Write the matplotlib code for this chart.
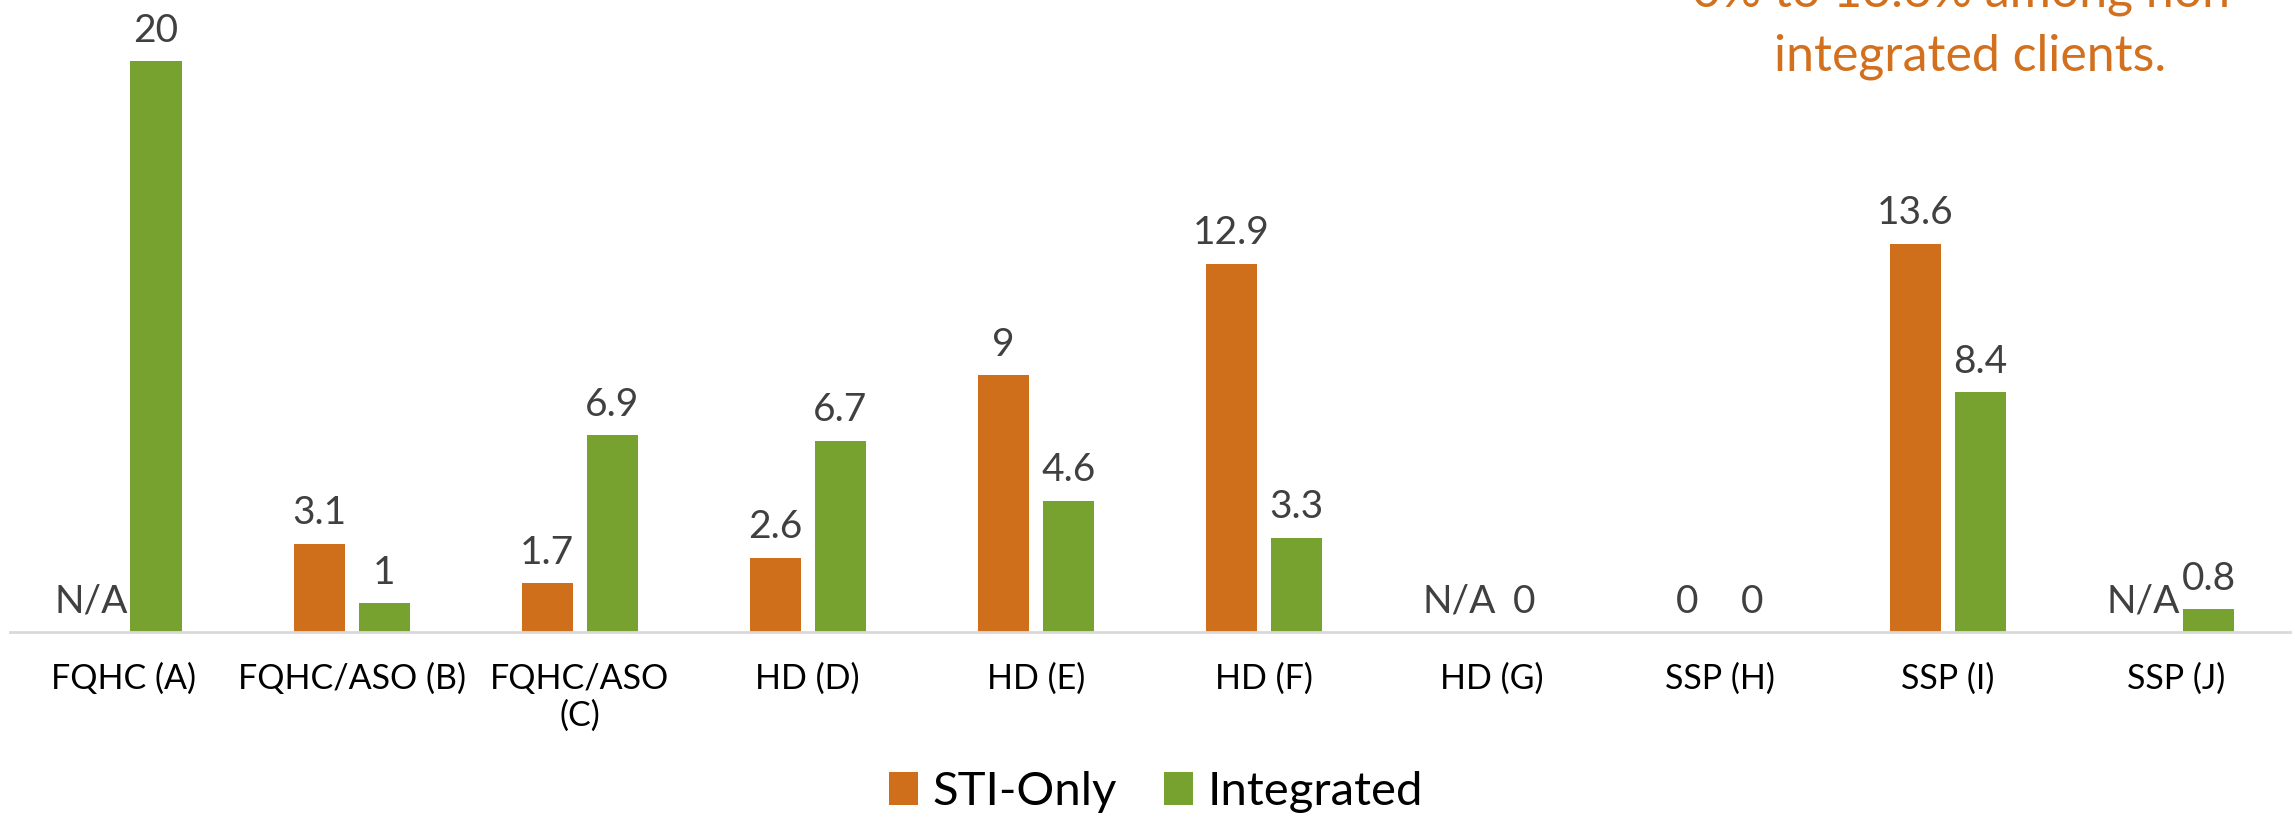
""" STI positivity by site: STI-only vs integrated clients. """

import numpy as np
import matplotlib
matplotlib.use('Agg')
import matplotlib.pyplot as plt


""" Data """

categories = ['FQHC (A)', 'FQHC/ASO (B)', 'FQHC/ASO\n(C)', 'HD (D)', 'HD (E)',
              'HD (F)', 'HD (G)', 'SSP (H)', 'SSP (I)', 'SSP (J)']
sti_only = [None, 3.1, 1.7, 2.6, 9, 12.9, None, 0, 13.6, None]
integrated = [20, 1, 6.9, 6.7, 4.6, 3.3, 0, 0, 8.4, 0.8]
series_names = ['STI-Only', 'Integrated']
note_lines = ['0% to 13.6% among non-', 'integrated clients.']

ORANGE = '#CF6F1C'
GREEN = '#78A22F'
NOTE_COLOR = '#D2701E'
LABEL_COLOR = '#404040'

plt.rcParams['font.family'] = ['Lato', 'DejaVu Sans']

""" Plot """

fig = plt.figure(figsize=(22.95, 8.19), dpi=100)
ax = fig.add_axes([9.5 / 2295, 1 - 632 / 819, 2280.5 / 2295, 628 / 819])

x = np.arange(len(categories))
width = 0.224
offset = 0.1425

sti_vals = [v if v is not None else 0 for v in sti_only]
ax.bar(x - offset, sti_vals, width, color=ORANGE, label=series_names[0])
ax.bar(x + offset, integrated, width, color=GREEN, label=series_names[1])

# value labels (N/A where there was no STI-only data)
for i in range(len(categories)):
    s = sti_only[i]
    txt = 'N/A' if s is None else f'{s:g}'
    ax.annotate(txt, (x[i] - offset, sti_vals[i]), xytext=(0, 14),
                textcoords='offset points', ha='center', va='baseline',
                fontsize=28, color=LABEL_COLOR)
    ax.annotate(f'{integrated[i]:g}', (x[i] + offset, integrated[i]), xytext=(0, 14),
                textcoords='offset points', ha='center', va='baseline',
                fontsize=28, color=LABEL_COLOR)

ax.set_xlim(-0.5, len(categories) - 0.5)
ax.set_ylim(0, 22)
ax.set_xticks(x)
ax.set_xticklabels(categories, fontsize=24.5, color='black', linespacing=1.2)
ax.tick_params(axis='x', length=0, pad=22)
ax.set_yticks([])
for side in ['top', 'left', 'right']:
    ax.spines[side].set_visible(False)
ax.spines['bottom'].set_color('#D9D9D9')
ax.spines['bottom'].set_linewidth(2)

fig.legend(loc='center', bbox_to_anchor=(1156 / 2295, 1 - 792 / 819), ncol=2,
           frameon=False, fontsize=34, handlelength=0.62, handleheight=0.68,
           handletextpad=0.3, columnspacing=1.0)

# note text, partly cut off at the top of the slide
fig.text(1970 / 2295, 1 - 7 / 819, note_lines[0], ha='center', va='baseline',
         fontsize=36, color=NOTE_COLOR)
fig.text(1970 / 2295, 1 - 71 / 819, note_lines[1], ha='center', va='baseline',
         fontsize=36, color=NOTE_COLOR)

fig.savefig('out.png', dpi=100)
